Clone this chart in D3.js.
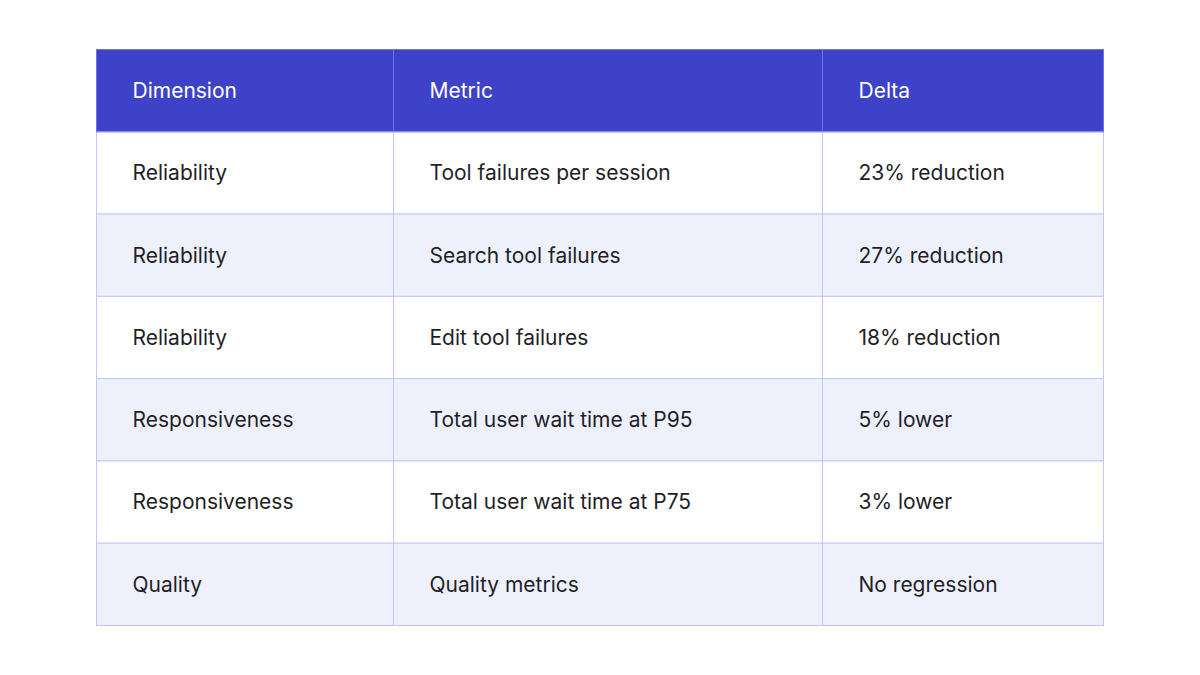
<!DOCTYPE html>
<html><head><meta charset="utf-8">
<script src="https://cdn.jsdelivr.net/npm/d3@7"></script>
<style>body{margin:0;background:#fff}</style>
</head><body><div class="app"></div>
<script>
var headers = ["Dimension", "Metric", "Delta"];
var dimensions = ["Reliability", "Reliability", "Reliability", "Responsiveness", "Responsiveness", "Quality"];
var metrics = ["Tool failures per session", "Search tool failures", "Edit tool failures",
  "Total user wait time at P95", "Total user wait time at P75", "Quality metrics"];
var deltas = ["23% reduction", "27% reduction", "18% reduction", "5% lower", "3% lower", "No regression"];

var width = 1200, height = 675;
var svg = d3.select(".app").append("svg").attr("width", width).attr("height", height);

var colEdges = [96.5, 393.5, 822.5, 1103.5];
var rows = [headers].concat(dimensions.map(function (d, i) { return [d, metrics[i], deltas[i]]; }));
var y = d3.scaleBand().domain(d3.range(rows.length)).range([49.5, 625.5]);
var font = "Inter, 'Noto Sans', sans-serif";

var g = svg.selectAll("g.row").data(rows).enter().append("g").attr("class", "row");
g.append("rect")
  .attr("x", colEdges[0]).attr("width", colEdges[3] - colEdges[0])
  .attr("y", function (d, i) { return y(i); }).attr("height", y.bandwidth())
  .attr("fill", function (d, i) { return i === 0 ? "#3d42c8" : (i % 2 === 0 ? "#eef1fc" : "#ffffff"); })
  .attr("stroke", "#c3c7f7").attr("stroke-width", 1);

g.each(function (r, i) {
  var row = d3.select(this);
  r.forEach(function (txt, j) {
    row.append("text")
      .attr("x", colEdges[j] + 36)
      .attr("y", y(i) + y.bandwidth() / 2)
      .attr("dy", "0.35em")
      .attr("font-family", font).attr("font-size", 21)
      .attr("fill", i === 0 ? "#ffffff" : "#1f1f28")
      .text(txt);
  });
});

// vertical column dividers
svg.selectAll("line.col").data(colEdges.slice(1, 3)).enter().append("line")
  .attr("x1", function (d) { return d; }).attr("x2", function (d) { return d; })
  .attr("y1", y(0)).attr("y2", y(rows.length - 1) + y.bandwidth())
  .attr("stroke", "#c3c7f7");
svg.selectAll("line.hcol").data(colEdges.slice(1, 3)).enter().append("line")
  .attr("x1", function (d) { return d; }).attr("x2", function (d) { return d; })
  .attr("y1", y(0)).attr("y2", y(0) + y.bandwidth())
  .attr("stroke", "#6d73e6");
svg.append("rect").attr("x", colEdges[0]).attr("y", y(0))
  .attr("width", colEdges[3] - colEdges[0]).attr("height", y.bandwidth())
  .attr("fill", "none").attr("stroke", "#6d73e6");
</script></body></html>
